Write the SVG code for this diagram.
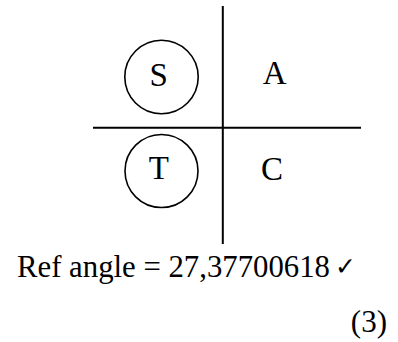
<svg xmlns="http://www.w3.org/2000/svg" width="398" height="342" viewBox="0 0 398 342">
<style>
.t{font-family:"Liberation Serif","Times New Roman",serif;fill:#000}
.q{font-size:33px;text-anchor:middle}
.b{font-size:31px}
.c{fill:none;stroke:#000;stroke-width:1.6}
.l{stroke:#000;stroke-width:2}
</style>
<rect width="398" height="342" fill="#fff"/>
<g id="axes">
<line class="l" x1="222.8" y1="6" x2="222.8" y2="244"/>
<line class="l" x1="93" y1="127.7" x2="361" y2="127.7"/>
</g>
<g id="S"><circle class="c" cx="161.5" cy="77" r="36.7"/><text class="t q" x="158.8" y="86">S</text></g>
<g id="T"><circle class="c" cx="161.5" cy="171" r="36.5"/><text class="t q" x="158.8" y="179">T</text></g>
<g id="A"><text class="t q" x="274.7" y="84.3">A</text></g>
<g id="C"><text class="t q" x="272" y="179.5">C</text></g>
<text class="t b" x="17" y="277" textLength="313" lengthAdjust="spacingAndGlyphs">Ref angle = 27,37700618</text>
<text x="335" y="275" style="font-family:'DejaVu Sans',sans-serif;font-size:25px;font-weight:bold">✓</text>
<text class="t b" x="387" y="332" text-anchor="end">(3)</text>
</svg>
